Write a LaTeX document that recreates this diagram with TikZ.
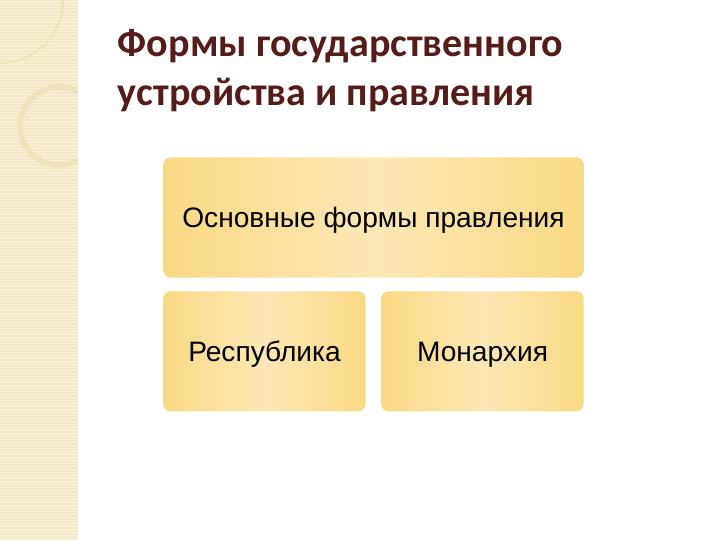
\documentclass[tikz,border=0pt]{standalone}
\usepackage{fontspec}
\setmainfont{Liberation Sans}
\newfontfamily\titlefont{Carlito}
\usepackage{tikz}
\usetikzlibrary{positioning,shadings}
\definecolor{stripbg}{RGB}{243,232,200}
\definecolor{stripline}{RGB}{250,243,222}
\definecolor{ringcol}{RGB}{239,227,188}
\definecolor{titlecol}{RGB}{85,28,25}
\definecolor{boxedge}{RGB}{249,217,132}
\definecolor{boxmid}{RGB}{252,232,182}
\tikzset{
    formbox/.style={
        rectangle,
        rounded corners=5pt,
        left color=boxedge,
        right color=boxedge,
        middle color=boxmid,
        text centered,
        text height=16pt,
        text depth=1.6pt,
        font=\fontsize{20}{24}\selectfont
    },
    ring/.style={
        draw=ringcol,
        line width=4pt
    }
}
\begin{document}
\begin{tikzpicture}[x=0.025cm,y=-0.025cm]
  \useasboundingbox (0,0) rectangle (720,540);
  \fill[white] (0,0) rectangle (720,540);
  % left strip
  \fill[stripbg] (0,0) rectangle (78,540);
  \foreach \y in {1,4,...,540}
    \draw[stripline,line width=0.6pt] (0,\y) -- (78,\y);
  \begin{scope}
    \clip (0,0) rectangle (78,540);
    \draw[ring,line width=1.5pt] (0,0) circle (63);
    \draw[ring] (59,126) circle (39);
  \end{scope}
  % title
  \node (title) [anchor=north west, align=left, text=titlecol,
    font=\titlefont\bfseries\fontsize{28.5}{35}\selectfont] at (113,24)
    {Формы государственного\\устройства и правления};
  % boxes
  \node (main) [formbox, minimum width=10.5cm, minimum height=3.0cm]
    at (373.5,217.5) {Основные формы правления};
  \node (rep) [formbox, minimum width=5.05cm, minimum height=3.0cm,
    below=0.33cm of main.south west, anchor=north west] {Республика};
  \node (mon) [formbox, minimum width=5.05cm, minimum height=3.0cm,
    below=0.33cm of main.south east, anchor=north east] {Монархия};
\end{tikzpicture}
\end{document}
